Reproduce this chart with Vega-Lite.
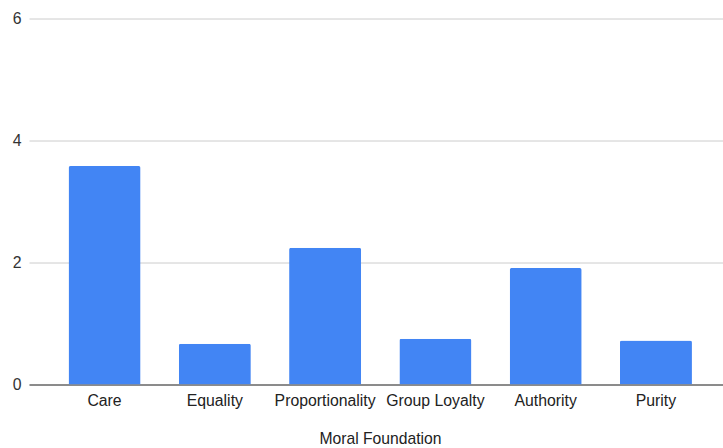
{
  "$schema": "https://vega.github.io/schema/vega-lite/v6.json",
  "width": 694,
  "height": 366,
  "autosize": {"type": "none"},
  "padding": {"left": 29, "top": 18.5, "right": 0, "bottom": 63.5},
  "background": "white",
  "config": {
    "view": {"stroke": null},
    "font": "Liberation Sans"
  },
  "data": {
    "values": [
      {"foundation": "Care", "score": 3.58},
      {"foundation": "Equality", "score": 0.67},
      {"foundation": "Proportionality", "score": 2.24},
      {"foundation": "Group Loyalty", "score": 0.75},
      {"foundation": "Authority", "score": 1.91},
      {"foundation": "Purity", "score": 0.72}
    ]
  },
  "mark": {"type": "bar", "color": "#4285F4", "cornerRadiusTopLeft": 2, "cornerRadiusTopRight": 2},
  "encoding": {
    "x": {
      "field": "foundation",
      "type": "nominal",
      "sort": null,
      "scale": {"paddingInner": 0.347, "paddingOuter": 0.32, "align": 0.56},
      "axis": {
        "title": "Moral Foundation",
        "titleFont": "Liberation Sans",
        "titleFontSize": 15.7,
        "titleFontWeight": "normal",
        "titleColor": "#222222",
        "titlePadding": 23,
        "titleX": 351,
        "labelFontSize": 15.8,
        "labelColor": "#222222",
        "labelAngle": 0,
        "labelPadding": 9,
        "ticks": false,
        "domainColor": "#333333",
        "domainWidth": 1.2,
        "grid": false
      }
    },
    "y": {
      "field": "score",
      "type": "quantitative",
      "scale": {"domain": [0, 6]},
      "axis": {
        "title": null,
        "values": [0, 2, 4, 6],
        "labelFontSize": 15.8,
        "labelColor": "#333333",
        "labelPadding": 8,
        "ticks": false,
        "domain": false,
        "gridColor": "#cccccc",
        "gridWidth": 1
      }
    }
  }
}
